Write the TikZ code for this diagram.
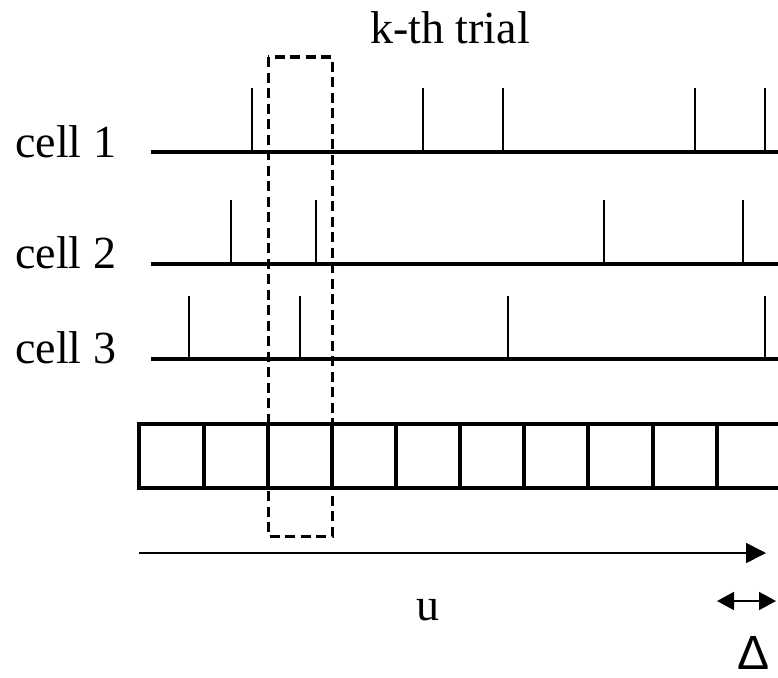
\documentclass[tikz,border=0pt]{standalone}
\usepackage{fontspec}
\setmainfont{Liberation Serif}
\newfontfamily\deltafont{Liberation Sans}
\usetikzlibrary{arrows.meta}

\begin{document}
\begin{tikzpicture}[x=1pt,y=-1pt,
  lbl/.style={font=\fontsize{46}{46}\selectfont, inner sep=0pt, anchor=base west},
  axisline/.style={line width=4pt},
  spike/.style={line width=1.7pt},
  gridline/.style={line width=3.6pt},
  window/.style={line width=3pt, dash pattern=on 10pt off 5.5pt},
  timearrow/.style={line width=1.7pt, -{Triangle[length=20pt,width=20pt]}},
  widtharrow/.style={line width=1.7pt, {Triangle[length=17pt,width=18pt]}-{Triangle[length=17pt,width=18pt]}}
]
\useasboundingbox (0,0) rectangle (778,677);

% title
\node[lbl, anchor=base] (title) at (450,44) {k-th trial};

% spike trains
\node[lbl] (c1) at (15,157) {cell 1};
\node[lbl] (c2) at (15,268) {cell 2};
\node[lbl] (c3) at (15,363) {cell 3};

\draw[axisline] (151,152) -- (779,152);
\draw[axisline] (151,264) -- (779,264);
\draw[axisline] (151,359) -- (779,359);

\foreach \x in {252,423,503,695,765} \draw[spike] (\x,152) -- (\x,88);
\foreach \x in {231,316,604,743}     \draw[spike] (\x,264) -- (\x,200);
\foreach \x in {189,300,508,765}     \draw[spike] (\x,359) -- (\x,296);

% time bins
\draw[gridline] (139,424) rectangle (781,488);
\foreach \x in {204,268,332,396,460,524,588,653,717}
  \draw[gridline] (\x,424) -- (\x,488);

% analysis window
\draw[window] (268,57) rectangle (332,536);

% time axis
\coordinate (t0) at (139,553);
\coordinate (t1) at (766,553);
\draw[timearrow] (t0) -- (t1);
\node[lbl, anchor=base] (u) at (428,620) {u};

% bin width
\coordinate (d0) at (717,601);
\coordinate (d1) at (776,601);
\draw[widtharrow] (d0) -- (d1);
\node[lbl, anchor=base, font=\deltafont\fontsize{48}{48}\selectfont] (delta) at (754,669) {Δ};
\end{tikzpicture}
\end{document}
